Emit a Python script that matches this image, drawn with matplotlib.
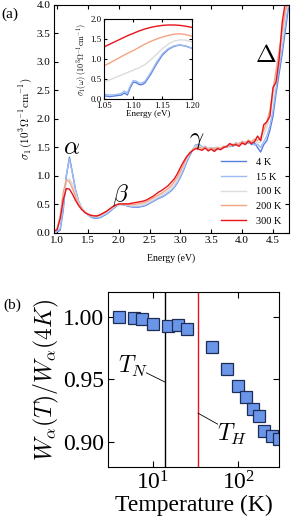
import numpy as np
import matplotlib
matplotlib.use('Agg')
from matplotlib import pyplot as plt
from matplotlib.ticker import MultipleLocator, NullLocator, FixedLocator

plt.rcParams['font.family'] = ['Liberation Serif', 'DejaVu Serif']
plt.rcParams['mathtext.fontset'] = 'cm'
plt.rcParams['xtick.direction'] = 'in'
plt.rcParams['ytick.direction'] = 'in'
plt.rcParams['xtick.top'] = True
plt.rcParams['ytick.right'] = True

# ---- panel (a): sigma_1 spectra ----
energy = np.round(np.arange(0.95, 4.751, 0.05), 2)
temps = ['4 K', '15 K', '100 K', '200 K', '300 K']
colors = ['#5a7de0', '#9dbcf2', '#dcdcdc', '#f4a384', '#e8141a']

s_4K = [0.03, 0.02, 0.05, 0.40, 1.00, 1.33, 1.05, 0.75, 0.55, 0.44,
        0.37, 0.32, 0.28, 0.26, 0.26, 0.27, 0.30, 0.33, 0.37, 0.42,
        0.46, 0.50, 0.50, 0.49, 0.47, 0.46, 0.45, 0.45, 0.46, 0.47,
        0.49, 0.52, 0.55, 0.58, 0.61, 0.63, 0.66, 0.70, 0.74, 0.80,
        0.88, 0.98, 1.10, 1.24, 1.36, 1.46, 1.54, 1.56, 1.50, 1.52,
        1.47, 1.50, 1.46, 1.49, 1.47, 1.51, 1.50, 1.54, 1.52, 1.58,
        1.55, 1.60, 1.56, 1.62, 1.55, 1.58, 1.50, 1.42, 1.55, 1.62,
        1.80, 2.05, 2.45, 2.80, 3.15, 3.55, 3.95]
s_15K = [0.03, 0.03, 0.08, 0.45, 1.02, 1.30, 1.04, 0.75, 0.55, 0.44,
         0.37, 0.32, 0.29, 0.27, 0.27, 0.28, 0.31, 0.34, 0.38, 0.43,
         0.47, 0.50, 0.50, 0.49, 0.48, 0.47, 0.46, 0.46, 0.47, 0.48,
         0.50, 0.53, 0.56, 0.59, 0.62, 0.64, 0.67, 0.71, 0.75, 0.81,
         0.89, 1.00, 1.12, 1.26, 1.38, 1.47, 1.55, 1.54, 1.52, 1.50,
         1.49, 1.48, 1.50, 1.47, 1.50, 1.49, 1.53, 1.51, 1.56, 1.54,
         1.58, 1.57, 1.60, 1.57, 1.60, 1.54, 1.56, 1.50, 1.60, 1.70,
         1.88, 2.15, 2.55, 2.90, 3.25, 3.65, 4.05]
s_100K = [0.03, 0.05, 0.25, 0.65, 0.92, 0.95, 0.85, 0.68, 0.53, 0.44,
          0.37, 0.33, 0.30, 0.29, 0.29, 0.30, 0.33, 0.36, 0.40, 0.44,
          0.48, 0.50, 0.50, 0.50, 0.49, 0.48, 0.48, 0.48, 0.49, 0.50,
          0.52, 0.55, 0.58, 0.61, 0.64, 0.67, 0.70, 0.74, 0.79, 0.85,
          0.93, 1.04, 1.16, 1.29, 1.40, 1.47, 1.52, 1.53, 1.50, 1.51,
          1.48, 1.50, 1.48, 1.51, 1.49, 1.53, 1.51, 1.55, 1.54, 1.57,
          1.56, 1.60, 1.58, 1.62, 1.59, 1.62, 1.58, 1.60, 1.72, 1.85,
          2.05, 2.35, 2.70, 3.05, 3.40, 3.80, 4.10]
s_200K = [0.03, 0.06, 0.30, 0.72, 0.93, 0.90, 0.78, 0.63, 0.50, 0.42,
          0.36, 0.33, 0.31, 0.30, 0.30, 0.32, 0.35, 0.38, 0.42, 0.46,
          0.49, 0.51, 0.51, 0.51, 0.50, 0.50, 0.50, 0.51, 0.52, 0.53,
          0.55, 0.58, 0.61, 0.64, 0.67, 0.70, 0.74, 0.78, 0.83, 0.90,
          0.98, 1.09, 1.20, 1.32, 1.41, 1.46, 1.50, 1.51, 1.48, 1.50,
          1.47, 1.49, 1.47, 1.50, 1.48, 1.52, 1.50, 1.55, 1.53, 1.58,
          1.55, 1.61, 1.57, 1.63, 1.60, 1.65, 1.62, 1.68, 1.80, 1.95,
          2.15, 2.50, 2.85, 3.20, 3.55, 3.90, 4.10]
s_300K = [0.03, 0.06, 0.25, 0.58, 0.78, 0.77, 0.68, 0.57, 0.48, 0.41,
          0.36, 0.33, 0.31, 0.30, 0.30, 0.32, 0.35, 0.38, 0.42, 0.46,
          0.49, 0.51, 0.51, 0.51, 0.51, 0.52, 0.53, 0.54, 0.55, 0.56,
          0.58, 0.61, 0.64, 0.68, 0.72, 0.75, 0.79, 0.83, 0.89, 0.95,
          1.04, 1.15, 1.25, 1.34, 1.40, 1.45, 1.48, 1.47, 1.45, 1.49,
          1.44, 1.47, 1.43, 1.48, 1.46, 1.50, 1.52, 1.57, 1.54, 1.55,
          1.52, 1.58, 1.55, 1.61, 1.57, 1.60, 1.70, 1.62, 1.90, 1.95,
          2.05, 2.55, 2.65, 3.05, 3.70, 4.05, 4.10]
spectra = [s_4K, s_15K, s_100K, s_200K, s_300K]

# inset (zoom on the alpha onset)
inset_e_low = [1.05, 1.06, 1.07, 1.08, 1.085, 1.09, 1.095, 1.10, 1.105, 1.11,
               1.115, 1.12, 1.13, 1.14, 1.15, 1.16, 1.17, 1.18, 1.19, 1.20]
ins_4K = [0.08, 0.06, 0.08, 0.10, 0.15, 0.10, 0.28, 0.42, 0.41, 0.36,
          0.36, 0.40, 0.62, 0.88, 1.10, 1.24, 1.32, 1.35, 1.32, 1.27]
ins_15K = [0.12, 0.10, 0.11, 0.14, 0.20, 0.15, 0.33, 0.46, 0.45, 0.40,
           0.40, 0.44, 0.66, 0.92, 1.13, 1.26, 1.33, 1.35, 1.32, 1.27]
inset_e = np.round(np.arange(1.05, 1.2001, 0.01), 2)
ins_100K = [0.43, 0.48, 0.54, 0.60, 0.66, 0.72, 0.78, 0.86, 0.98, 1.12,
            1.26, 1.37, 1.45, 1.48, 1.47, 1.43]
ins_200K = [0.83, 0.90, 0.98, 1.06, 1.14, 1.21, 1.29, 1.37, 1.44, 1.50,
            1.55, 1.59, 1.62, 1.63, 1.61, 1.57]
ins_300K = [1.30, 1.37, 1.44, 1.51, 1.58, 1.64, 1.70, 1.75, 1.79, 1.82,
            1.84, 1.85, 1.85, 1.84, 1.82, 1.79]

# ---- panel (b): spectral weight ratio ----
T_b = [4, 6, 7.5, 10, 15, 20, 25, 50, 75, 100, 125, 150, 175, 200, 250, 300]
W_ratio = [1.000, 0.9995, 0.9987, 0.9947, 0.9926, 0.9934, 0.9905, 0.9757,
           0.9582, 0.945, 0.9357, 0.9264, 0.9206, 0.9087, 0.9047, 0.9021]
T_N = 14
T_H = 34

fig = plt.figure(figsize=(2.91, 5.23), dpi=100)

ax = fig.add_axes([0.1856, 0.5545, 0.8076, 0.436])
for s, c, lab in zip(spectra, colors, temps):
    ax.plot(energy, s, color=c, lw=1.0, label=lab)
ax.set_xlim(0.95, 4.76)
ax.set_ylim(0, 4.0)
ax.xaxis.set_major_locator(MultipleLocator(0.5))
ax.yaxis.set_major_locator(MultipleLocator(0.5))
ax.xaxis.set_major_formatter(plt.FormatStrFormatter('%.1f'))
ax.yaxis.set_major_formatter(plt.FormatStrFormatter('%.1f'))
ax.tick_params(labelsize=8, length=3, pad=2.5)
ax.set_xlabel('Energy (eV)', fontsize=7, labelpad=6)
ax.set_ylabel(r'$\sigma_1\,(10^3\Omega^{-1}{\rm cm}^{-1})$', fontsize=8, labelpad=2)
ax.text(1.24, 1.49, r'$\alpha$', fontsize=18, ha='center', va='center')
ax.text(2.03, 0.67, r'$\beta$', fontsize=18, ha='center', va='center')
ax.text(3.27, 1.63, r'$\gamma$', fontsize=18, ha='center', va='center')
ax.text(4.39, 3.10, r'$\Delta$', fontsize=18, ha='center', va='center')
ax.legend(loc='lower right', bbox_to_anchor=(1.0, 0.0), frameon=False,
          fontsize=7.5, handlelength=2.4, handletextpad=1.0,
          labelspacing=0.52, borderaxespad=0.3)
fig.text(0.005, 0.965, '(a)', fontsize=11)

axi = fig.add_axes([0.357, 0.8107, 0.302, 0.153])
axi.plot(inset_e_low, ins_4K, color=colors[0], lw=1.0)
axi.plot(inset_e_low, ins_15K, color=colors[1], lw=1.0)
axi.plot(inset_e, ins_100K, color=colors[2], lw=1.0)
axi.plot(inset_e, ins_200K, color=colors[3], lw=1.0)
axi.plot(inset_e, ins_300K, color=colors[4], lw=1.0)
axi.set_xlim(1.05, 1.20)
axi.set_ylim(0, 2.0)
axi.xaxis.set_major_locator(FixedLocator([1.05, 1.10, 1.15, 1.20]))
axi.yaxis.set_major_locator(MultipleLocator(0.5))
axi.xaxis.set_major_formatter(plt.FormatStrFormatter('%.2f'))
axi.yaxis.set_major_formatter(plt.FormatStrFormatter('%.1f'))
axi.tick_params(axis='x', labelsize=6.3, length=2, pad=2.5)
axi.tick_params(axis='y', labelsize=6.3, length=2, pad=1.5)
axi.set_xlabel('Energy (eV)', fontsize=6.5, labelpad=0)
axi.set_ylabel(r'$\sigma_1(\omega)\ (10^3\Omega^{-1}{\rm cm}^{-1})$', fontsize=5.8, labelpad=1)

axb = fig.add_axes([0.371, 0.1071, 0.5876, 0.3346])
axb.axvline(T_N, color='black', lw=1.0)
axb.axvline(T_H, color='#e8141a', lw=1.0)
axb.plot(T_b, W_ratio, 's', color='#6a96ea', markeredgecolor='#1e2d55',
         markersize=8.5, markeredgewidth=0.9)
axb.set_xscale('log')
axb.set_xlim(3, 300)
axb.set_ylim(0.88, 1.02)
axb.xaxis.set_minor_locator(NullLocator())
axb.yaxis.set_major_locator(FixedLocator([0.90, 0.95, 1.00]))
axb.yaxis.set_major_formatter(plt.FormatStrFormatter('%.2f'))
axb.tick_params(labelsize=17, length=4, pad=3)
axb.set_xlabel('Temperature (K)', fontsize=17, labelpad=0)
axb.set_ylabel(r'$W_\alpha(T)/W_\alpha(4K)$', fontsize=17, labelpad=1)
axb.plot([8.45, T_N], [0.9553, 0.9479], color='black', lw=0.6)
axb.plot([T_H, 57.5], [0.923, 0.9143], color='black', lw=0.6)
axb.text(5.85, 0.9603, r'$T_N$', fontsize=17, ha='center', va='center')
axb.text(85, 0.9056, r'$T_H$', fontsize=17, ha='center', va='center')
fig.text(0.01, 0.41, '(b)', fontsize=11)

fig.savefig('out.png', dpi=100)
